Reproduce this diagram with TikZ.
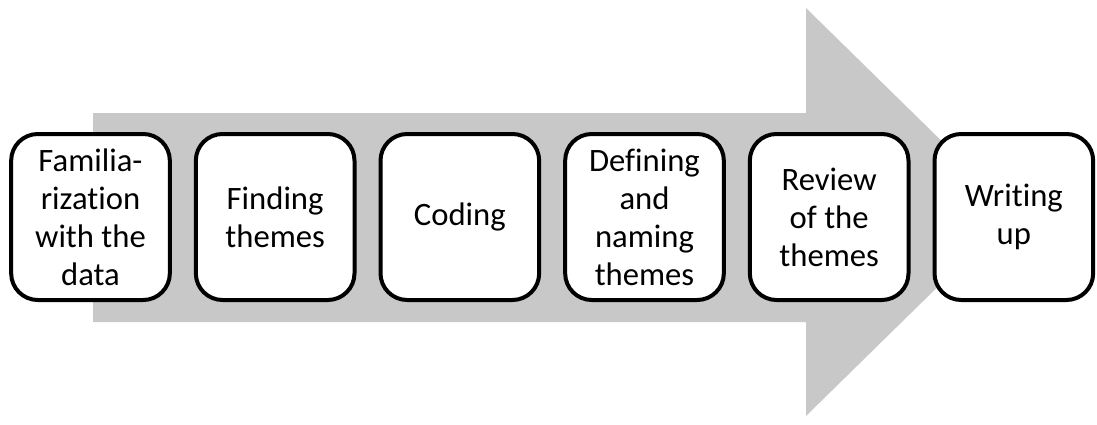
\documentclass[tikz,border=0pt]{standalone}
\usepackage{fontspec}
\setmainfont{Carlito}[RawFeature={-liga;-clig;-dlig;-calt}]
\usetikzlibrary{positioning}

\definecolor{arrowgray}{RGB}{200,200,200}

\tikzset{
  stepbox/.style={draw=black, fill=white, line width=3pt, rounded corners=20pt,
    minimum width=119pt, minimum height=124.5pt, align=center,
    font=\fontsize{24.5}{28.5}\selectfont, inner sep=0pt},
}

\begin{document}
\begin{tikzpicture}[x=0.75pt, y=-0.75pt, node distance=16.5pt]

  % frame
  \useasboundingbox (0,0) rectangle (1097,425);

  % big arrow
  \fill[arrowgray]
    (93,113) -- (806,113) -- (806,8) -- (1014,212) -- (806,416) -- (806,322) -- (93,322) -- cycle;

  % steps
  \begin{scope}
    \clip (0,0) rectangle (1097,425);
    \node[stepbox] (fam) at (90.5,217) {Familia-\\rization\\with the\\data};
    \node[stepbox, right=of fam] (find) {Finding\\themes};
    \node[stepbox, right=of find] (cod) {Coding};
    \node[stepbox, right=of cod] (def) {Defining\\and\\naming\\themes};
    \node[stepbox, right=of def] (rev) {Review\\of the\\themes};
    \node[stepbox, right=of rev] (wri) {Writing\\up};
  \end{scope}

\end{tikzpicture}
\end{document}
